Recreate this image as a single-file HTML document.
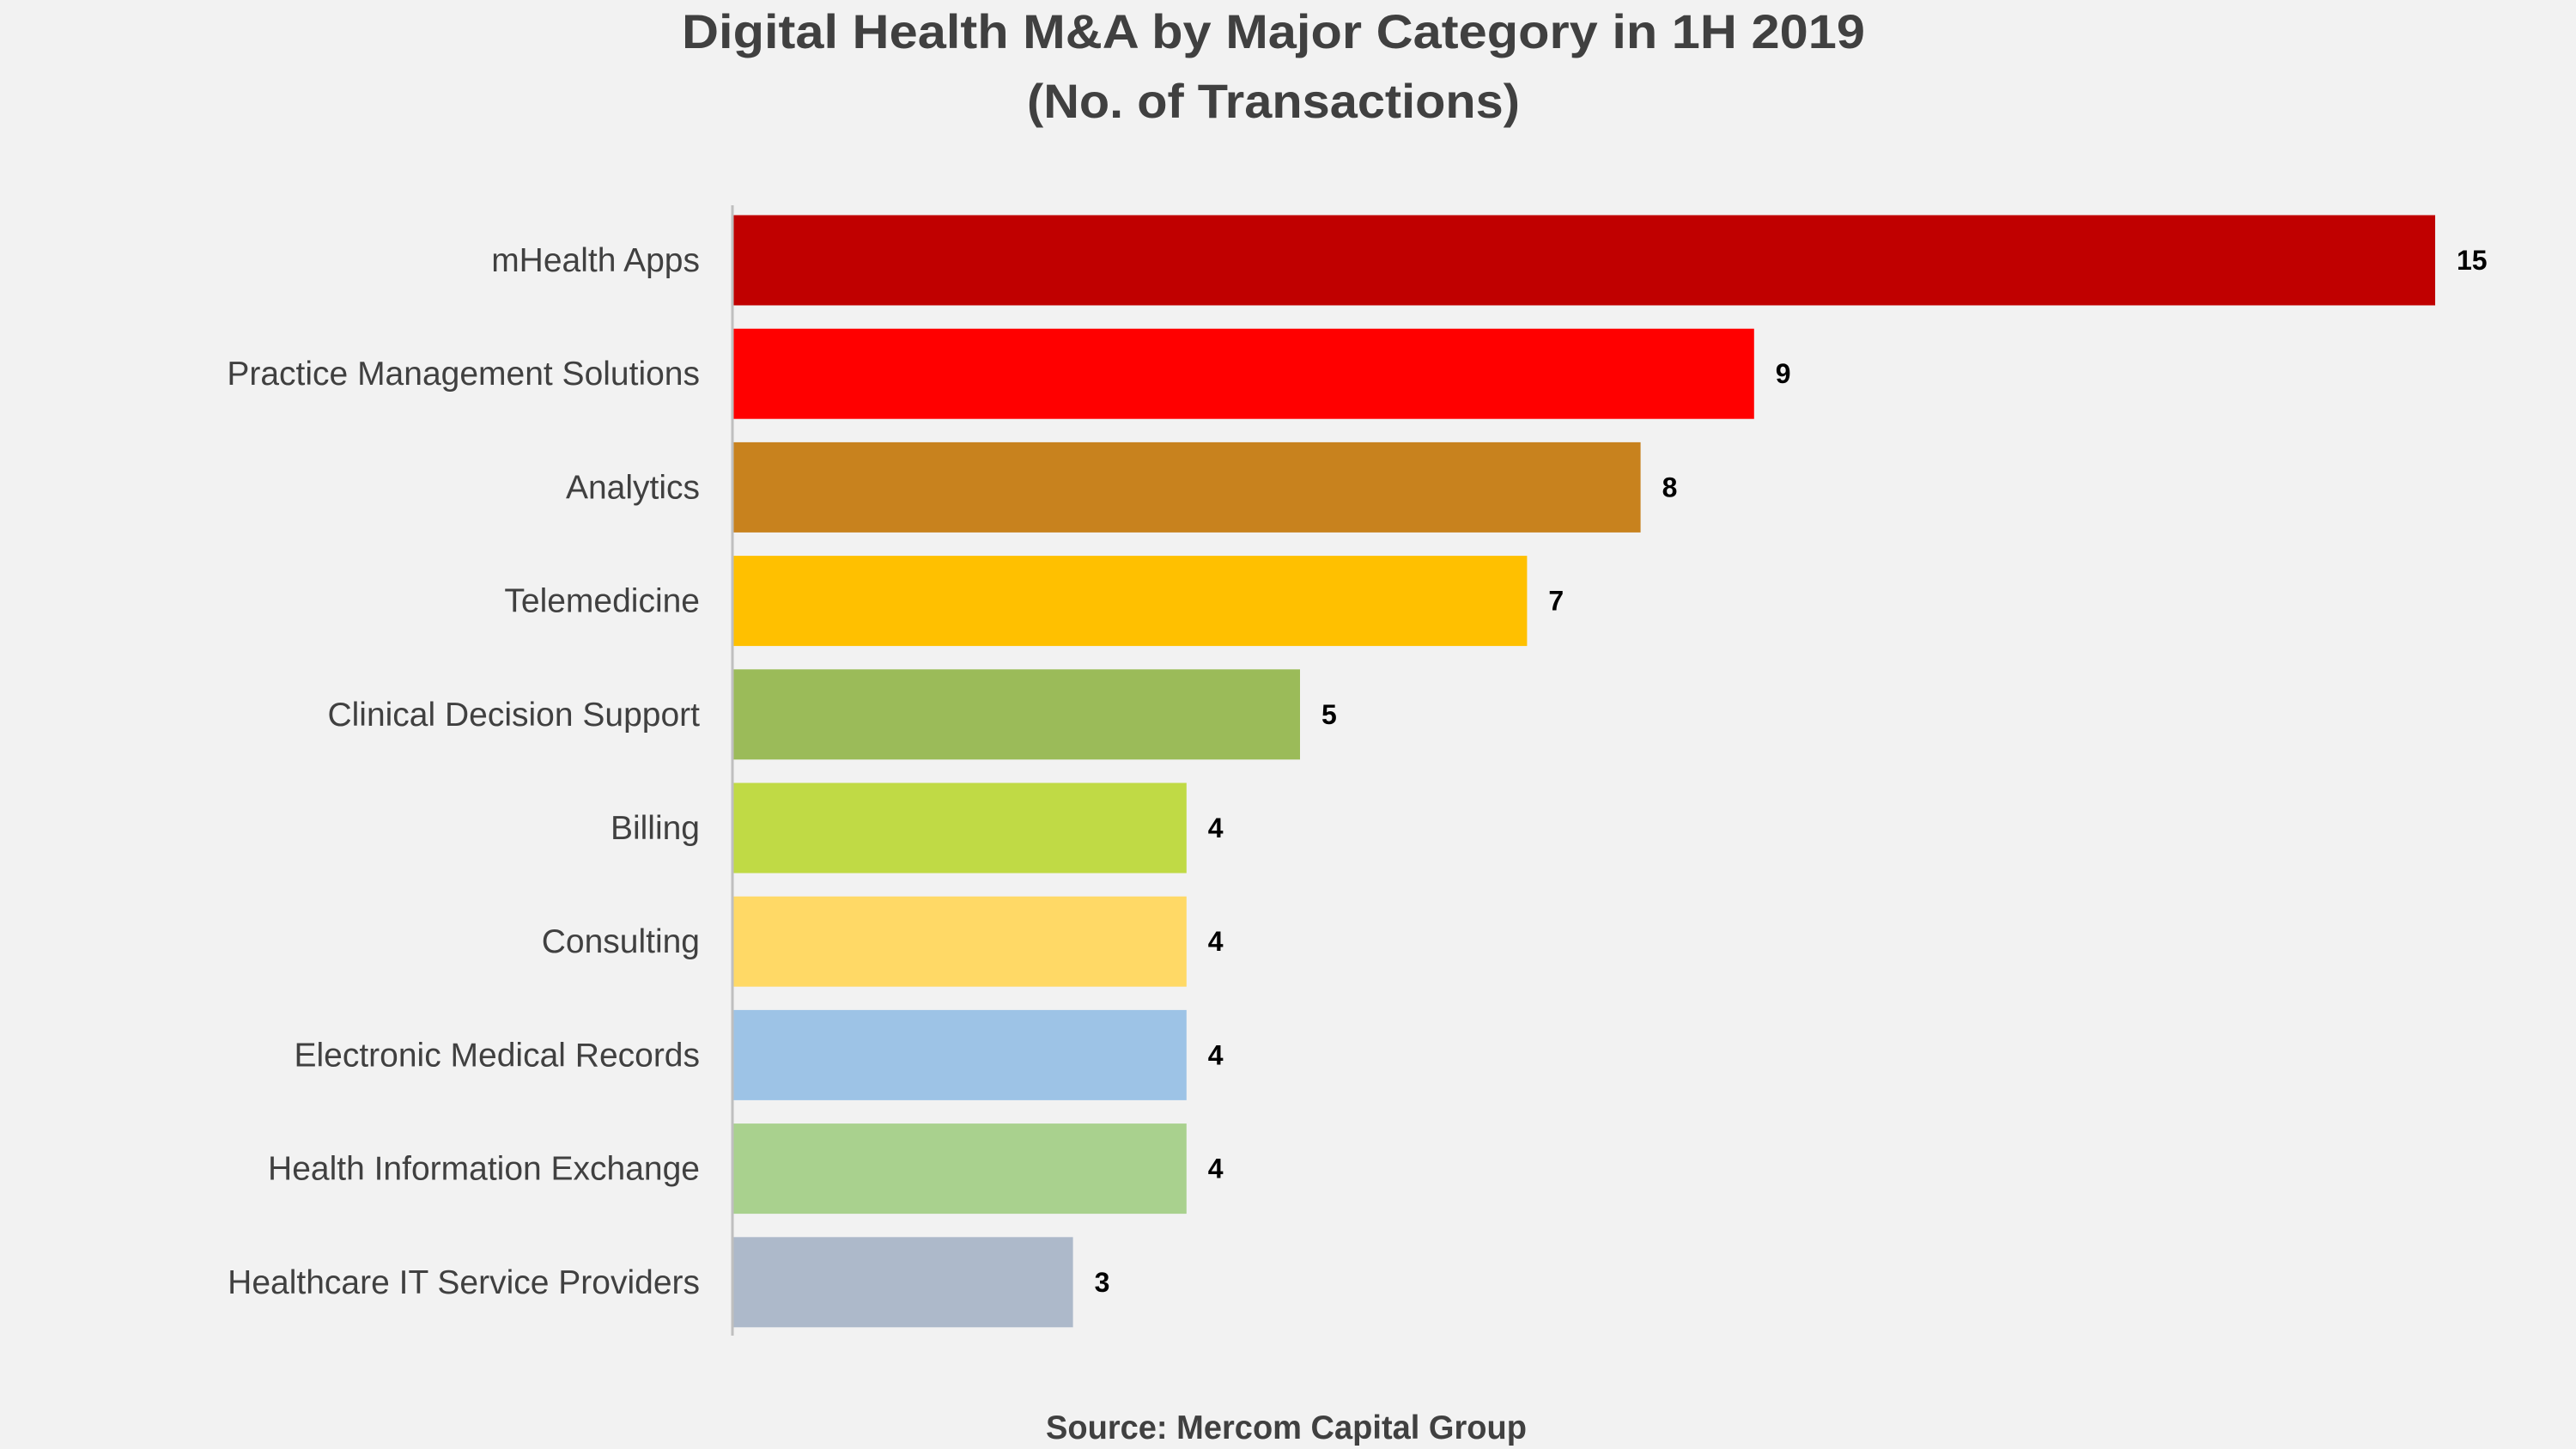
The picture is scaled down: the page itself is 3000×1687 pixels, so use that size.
<!DOCTYPE html>
<html><head><meta charset="utf-8"><style>
html,body{margin:0;padding:0;background:#F2F2F2;}
svg{display:block;font-family:"Liberation Sans",sans-serif;}
</style></head><body>
<svg id="chart" width="3000" height="1687" viewBox="0 0 3000 1687" xmlns="http://www.w3.org/2000/svg">
<rect x="0" y="0" width="3000" height="1687" fill="#F2F2F2"/>
<text x="1483" y="56" text-anchor="middle" font-size="56" font-weight="bold" fill="#404040" textLength="1378" lengthAdjust="spacingAndGlyphs">Digital Health M&amp;A by Major Category in 1H 2019</text>
<text x="1483" y="137" text-anchor="middle" font-size="56" font-weight="bold" fill="#404040" textLength="574" lengthAdjust="spacingAndGlyphs">(No. of Transactions)</text>
<g id="bars"></g>
<line x1="853" y1="239" x2="853" y2="1555" stroke="#BFBFBF" stroke-width="3"/>
<text x="1498" y="1675" text-anchor="middle" font-size="39" font-weight="bold" fill="#404040" textLength="560" lengthAdjust="spacingAndGlyphs">Source: Mercom Capital Group</text>
</svg>
<script>
const categories = ["mHealth Apps","Practice Management Solutions","Analytics","Telemedicine","Clinical Decision Support","Billing","Consulting","Electronic Medical Records","Health Information Exchange","Healthcare IT Service Providers"];
const values = [15,9,8,7,5,4,4,4,4,3];
const colors = ["#C00000","#FF0000","#C8821E","#FFC000","#9BBB59","#C0DA45","#FFD966","#9DC3E6","#A9D18E","#ADB9CA"];
const NS="http://www.w3.org/2000/svg";
const x0=853, unit=132.2, top0=250.5, step=132.2, bh=105;
const xScale=v=>x0+v*unit;
const yScale=i=>top0+i*step;
const g=document.getElementById('bars');
categories.forEach((c,i)=>{
  const y=yScale(i);
  const r=document.createElementNS(NS,'rect');
  r.setAttribute('x',x0);r.setAttribute('y',y);
  r.setAttribute('width',xScale(values[i])-x0);r.setAttribute('height',bh);
  r.setAttribute('fill',colors[i]);
  
  
  g.appendChild(r);
  const t=document.createElementNS(NS,'text');
  t.setAttribute('x',815);t.setAttribute('y',y+bh/2+13);
  t.setAttribute('text-anchor','end');t.setAttribute('font-size','39');t.setAttribute('fill','#404040');
  t.textContent=c;
  
  
  g.appendChild(t);
  const v=document.createElementNS(NS,'text');
  v.setAttribute('x',xScale(values[i])+25);v.setAttribute('y',y+bh/2+11);
  v.setAttribute('font-size','32');v.setAttribute('font-weight','bold');v.setAttribute('fill','#000');
  v.textContent=values[i];
  
  
  g.appendChild(v);
});
</script>
</body></html>
